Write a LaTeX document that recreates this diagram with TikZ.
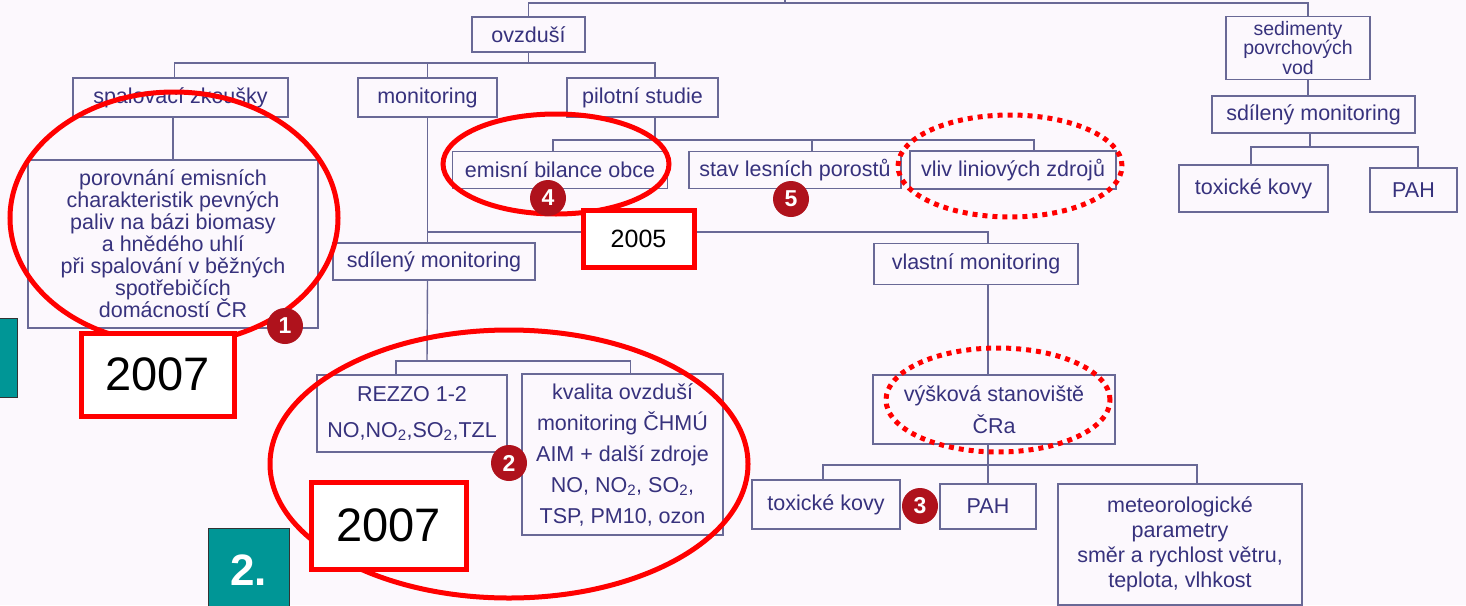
\documentclass[tikz,border=0pt]{standalone}
\usepackage{fontspec}
\setmainfont{Liberation Sans}
\definecolor{bg}{RGB}{252,248,253}
\definecolor{boxline}{RGB}{105,105,150}
\definecolor{txt}{RGB}{55,50,125}
\definecolor{annot}{RGB}{255,0,0}
\definecolor{tealc}{RGB}{0,150,150}
\definecolor{badge}{RGB}{175,18,28}
\newcommand{\fs}[2]{\fontsize{#1}{#2}\selectfont\lineskiplimit=-40pt\relax}
\tikzset{
  box/.style={draw=boxline, line width=1.4pt, fill=bg, text=txt, inner sep=0pt, align=center, font=\fs{21.5}{24}},
  conn/.style={draw=boxline, line width=1.4pt},
  ring/.style={draw=annot, line width=5pt},
  dotring/.style={draw=annot, line width=5pt, dash pattern=on 5pt off 5pt},
  yearbox/.style={draw=annot, line width=5pt, fill=white, text=black, inner sep=0pt},
  badgenode/.style={circle, fill=badge, text=white, font=\bfseries\fs{23}{23}, minimum size=36pt, inner sep=0pt},
  tealbox/.style={draw=black!80, line width=1pt, fill=tealc, text=white, inner sep=0pt, font=\bfseries\fs{44}{44}},
}
\begin{document}
\begin{tikzpicture}[x=1pt,y=-1pt]
\useasboundingbox (0,0) rectangle (1466,605);
\fill[bg] (0,0) rectangle (1466,605);

% boxes
\node[box, minimum width=113pt, minimum height=35pt] (ovz) at (528.5,34.5) {ovzduší};
\node[box, minimum width=215pt, minimum height=39pt] (spal) at (180.5,97.5) {spalovací zkoušky};
\node[box, minimum width=139pt, minimum height=39pt] (mon) at (427.5,97.5) {monitoring};
\node[box, minimum width=151pt, minimum height=39pt] (pil) at (642.5,97.5) {pilotní studie};
\node[box, minimum width=290pt, minimum height=168pt, font=\fs{21.5}{22}] (porov) at (173,244)
  {porovnání emisních\\charakteristik pevných\\paliv na bázi biomasy\\a hnědého uhlí\\při spalování v běžných\\spotřebičích\\domácností ČR};
\node[box, minimum width=215pt, minimum height=37pt] (emis) at (560,170) {emisní bilance obce};
\node[box, minimum width=212pt, minimum height=37pt] (stav) at (795,170) {stav lesních porostů};
\node[box, minimum width=206pt, minimum height=38pt] (vliv) at (1013,170) {vliv liniových zdrojů};
\node[box, minimum width=202pt, minimum height=37pt] (sdil1) at (434,261.5) {sdílený monitoring};
\node[box, minimum width=204pt, minimum height=41pt] (vlast) at (976,264) {vlastní monitoring};
\node[box, minimum width=190pt, minimum height=77pt, font=\fs{21.5}{36}] (rezzo) at (412,413.5)
  {REZZO 1-2\\NO,NO\textsubscript{2},SO\textsubscript{2},TZL};
\node[box, minimum width=201pt, minimum height=161pt, font=\fs{21.5}{31}] (kval) at (622.5,454.5)
  {kvalita ovzduší\\monitoring ČHMÚ\\AIM + další zdroje\\NO, NO\textsubscript{2}, SO\textsubscript{2},\\TSP, PM10, ozon};
\node[box, minimum width=242pt, minimum height=69pt, font=\fs{21.5}{32}] (vys) at (994,409.5)
  {výšková stanoviště\\ČRa};
\node[box, minimum width=148pt, minimum height=49pt] (tox1) at (826,504.5) {toxické kovy};
\node[box, minimum width=96pt, minimum height=45pt] (pah1) at (988,506.5) {PAH};
\node[box, minimum width=244pt, minimum height=121pt, font=\fs{21.5}{25}] (meteo) at (1180,544.5)
  {meteorologické\\parametry\\směr a rychlost větru,\\teplota, vlhkost};
\node[box, minimum width=144pt, minimum height=63pt, font=\fs{19.5}{19.5}] (sed) at (1298,48)
  {sedimenty\\povrchových\\vod};
\node[box, minimum width=203pt, minimum height=37pt] (sdil2) at (1313.5,114.5) {sdílený monitoring};
\node[box, minimum width=149pt, minimum height=47pt] (tox2) at (1253.5,188.5) {toxické kovy};
\node[box, minimum width=87pt, minimum height=44pt] (pah2) at (1413.5,190) {PAH};

% connectors
\coordinate (ptop) at (785,0);
\coordinate (jt) at (785,3);
\draw[conn] (ovz.north) |- (jt) -| ([xshift=10pt]sed.north);
\draw[conn] (jt) -- (ptop);

\coordinate (j1) at (527,63);
\draw[conn] (ovz.south) -- (ovz.south |- j1);
\draw[conn] ([xshift=-6pt]spal.north) |- (j1) -| ([xshift=12.5pt]pil.north);
\draw[conn] (mon.north) -- (mon.north |- j1);
\draw[conn] (porov.north) -- (porov.north |- spal.south);

\coordinate (j2) at (427,232);
\draw[conn] (mon.south) -- (mon.south |- sdil1.north);
\draw[conn] (mon.south |- j2) -| ([xshift=12pt]vlast.north);
\coordinate (j3) at (427,361);
\draw[conn] (mon.south |- sdil1.south) -- (j3);
\draw[conn] ([xshift=-16pt]rezzo.north) |- (j3) -| ([xshift=8pt]kval.north);

\coordinate (j4) at (655,140);
\draw[conn] ([xshift=12.5pt]pil.south) -- (j4);
\draw[conn] ([xshift=-7pt]emis.north) |- (j4) -| ([xshift=21pt]vliv.north);
\draw[conn] ([xshift=17pt]stav.north) -- ([xshift=17pt]stav.north |- j4);

\coordinate (j5) at (988,465);
\draw[conn] ([xshift=12pt]vlast.south) -- ([xshift=12pt]vlast.south |- vys.north);
\draw[conn] ([xshift=-6pt]vys.south) -- ([xshift=-6pt]vys.south |- pah1.north);
\draw[conn] ([xshift=-3pt]tox1.north) |- (j5) -| ([xshift=17pt]meteo.north);

\draw[conn] ([xshift=10pt]sed.south) -- ([xshift=10pt]sed.south |- sdil2.north);
\coordinate (j6) at (1310,147);
\draw[conn] ([xshift=-3.5pt]sdil2.south) -- (j6);
\draw[conn] ([xshift=-2.5pt]tox2.north) |- (j6) -| ([xshift=4.5pt]pah2.north);

% red annotations
\draw[ring] (174,218) ellipse [x radius=164pt, y radius=126pt];
\draw[ring] (556,164) ellipse [x radius=113pt, y radius=50pt];
\draw[ring] (509,464) ellipse [x radius=239pt, y radius=134pt];
\draw[dotring] (1010,166) ellipse [x radius=112pt, y radius=51pt];
\draw[dotring] (998,400) ellipse [x radius=112pt, y radius=52pt];

\node[badgenode] (b1) at (285,326) {1};
\node[badgenode] (b4) at (548,198) {4};
\node[badgenode] (b5) at (791,199) {5};
\node[badgenode] (b2) at (509,463) {2};
\node[badgenode] (b3) at (920,506) {3};

\node[yearbox, minimum width=153pt, minimum height=83pt, font=\fs{47}{47}] (y1) at (157.5,374.5) {2007};
\node[yearbox, minimum width=155pt, minimum height=87pt, font=\fs{47}{47}] (y2) at (388.5,525.5) {2007};
\node[yearbox, minimum width=111pt, minimum height=57pt, font=\fs{25}{25}] (y3) at (638.5,238.5) {2005};

\node[tealbox, minimum width=22pt, minimum height=79pt] (t1) at (6,357.5) {};
\node[tealbox, minimum width=81pt, minimum height=84pt] (t2) at (248.5,570) {2.};
\end{tikzpicture}
\end{document}
